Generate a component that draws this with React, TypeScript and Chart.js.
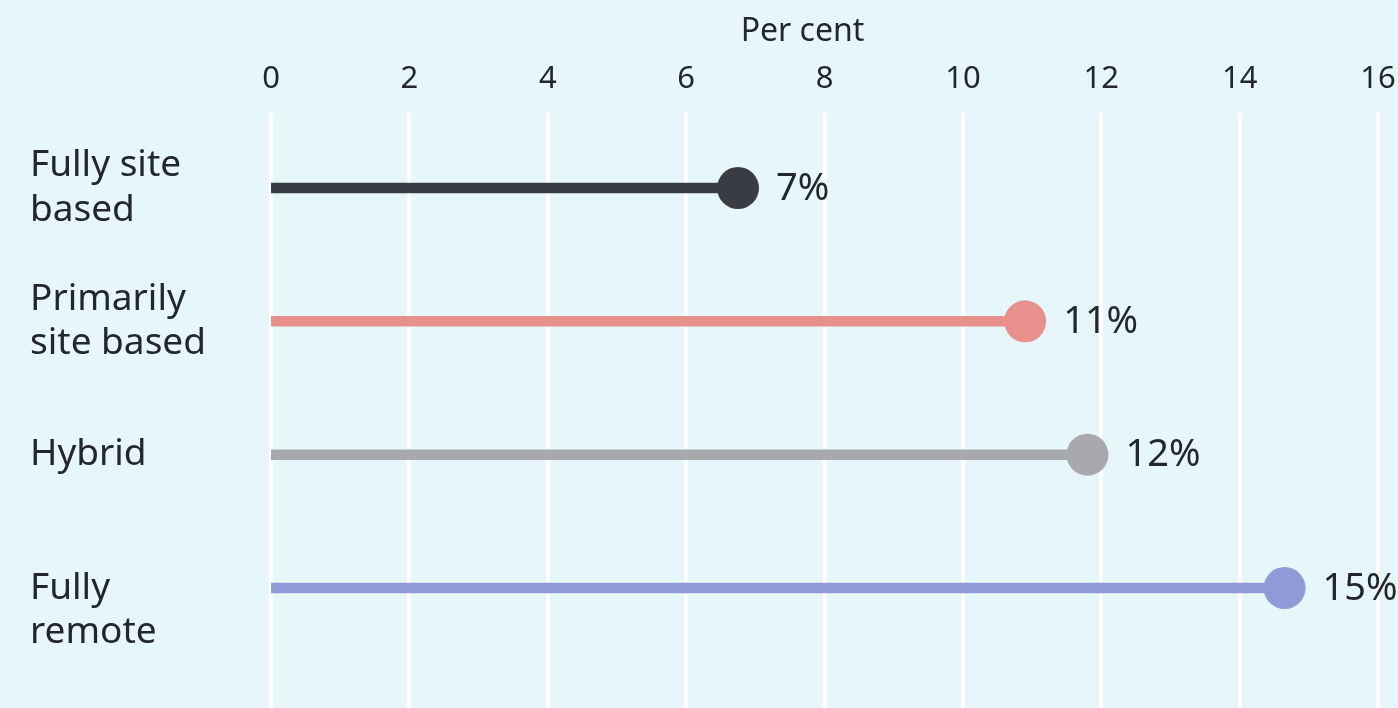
import React, { useEffect, useRef } from "react";
import { Chart, registerables } from "chart.js";

Chart.register(...registerables);

// ---- data ----
const categories: string[][] = [
  ["Fully site", "based"],
  ["Primarily", "site based"],
  ["Hybrid"],
  ["", "Fully", "remote"],
];
const values: number[] = [6.75, 10.9, 11.8, 14.65];
const valueLabels: string[] = ["7%", "11%", "12%", "15%"];
const seriesColors: string[] = ["#3A3C44", "#E8908B", "#A8A9AC", "#8F9BD6"];
const xMin = 0;
const xMax = 16;
const xStep = 2;
const xTitle = "Per cent";

// ---- style ----
const BG = "#E7F6FB";
const TEXT = "#23262F";
const FONT = "'Noto Sans', 'Open Sans', sans-serif";

const zeroPad = (s: any) => {
  s.paddingTop = 0;
  s.paddingBottom = 0;
  s.paddingLeft = 0;
  s.paddingRight = 0;
};

const valueLabelPlugin = {
  id: "valueLabels",
  afterDatasetsDraw(chart: any) {
    const ctx = chart.ctx;
    ctx.save();
    ctx.font = `38px ${FONT}`;
    ctx.fillStyle = TEXT;
    ctx.textBaseline = "middle";
    ctx.textAlign = "left";
    chart.data.datasets.forEach((_: any, i: number) => {
      const meta = chart.getDatasetMeta(i);
      const pt = meta.data[1];
      if (pt) ctx.fillText(valueLabels[i], pt.x + 38, pt.y + 1);
    });
    ctx.restore();
  },
};

const axisTitlePlugin = {
  id: "axisTitle",
  afterDraw(chart: any) {
    const ctx = chart.ctx;
    const xs = chart.scales.x;
    ctx.save();
    ctx.font = `32px ${FONT}`;
    ctx.fillStyle = TEXT;
    ctx.textBaseline = "middle";
    ctx.textAlign = "center";
    ctx.fillText(xTitle, (xs.left + xs.right) / 2 - 22, 32);
    ctx.restore();
  },
};

export default function App() {
  const ref = useRef<HTMLCanvasElement | null>(null);

  useEffect(() => {
    if (!ref.current) return;
    const chart = new Chart(ref.current, {
      type: "scatter",
      data: {
        datasets: categories.map((c, i) => ({
          label: c.join(" ").trim(),
          data: [
            { x: 0, y: i },
            { x: values[i], y: i },
          ],
          showLine: true,
          borderColor: seriesColors[i],
          backgroundColor: seriesColors[i],
          borderWidth: 10.5,
          borderCapStyle: "butt",
          pointRadius: [0, 21],
          pointHoverRadius: [0, 21],
          pointBackgroundColor: seriesColors[i],
          pointBorderColor: seriesColors[i],
          pointBorderWidth: 0,
          clip: false,
        })),
      },
      options: {
        animation: false,
        responsive: false,
        events: [],
        layout: {
          autoPadding: false,
          padding: { left: 30, right: 20, top: 0, bottom: 0 },
        },
        plugins: {
          legend: { display: false },
          tooltip: { enabled: false },
        },
        scales: {
          x: {
            type: "linear",
            position: "top",
            min: xMin,
            max: xMax,
            ticks: {
              stepSize: xStep,
              color: TEXT,
              font: { family: FONT, size: 31 },
              padding: 15,
            },
            grid: { color: "#FFFFFF", lineWidth: 4, drawTicks: false },
            border: { display: false },
            afterFit: (s: any) => {
              s.height = 113;
              zeroPad(s);
            },
          },
          y: {
            type: "linear",
            reverse: true,
            min: -0.5625,
            max: 3.9,
            afterBuildTicks: (s: any) => {
              s.ticks = categories.map((_, i) => ({ value: i }));
            },
            ticks: {
              autoSkip: false,
              crossAlign: "far",
              color: TEXT,
              font: { family: FONT, size: 37, lineHeight: 1.2 },
              callback: (_v: any, idx: number) => categories[idx],
            },
            grid: { display: false },
            border: { display: false },
            afterFit: (s: any) => {
              s.width = 241;
              zeroPad(s);
            },
          },
        },
      } as any,
      plugins: [valueLabelPlugin, axisTitlePlugin],
    });
    return () => chart.destroy();
  }, []);

  return (
    <div
      style={{
        position: "fixed",
        left: 0,
        top: 0,
        width: 1398,
        height: 708,
        background: BG,
      }}
    >
      <canvas ref={ref} width={1398} height={708} style={{ display: "block" }} />
    </div>
  );
}
